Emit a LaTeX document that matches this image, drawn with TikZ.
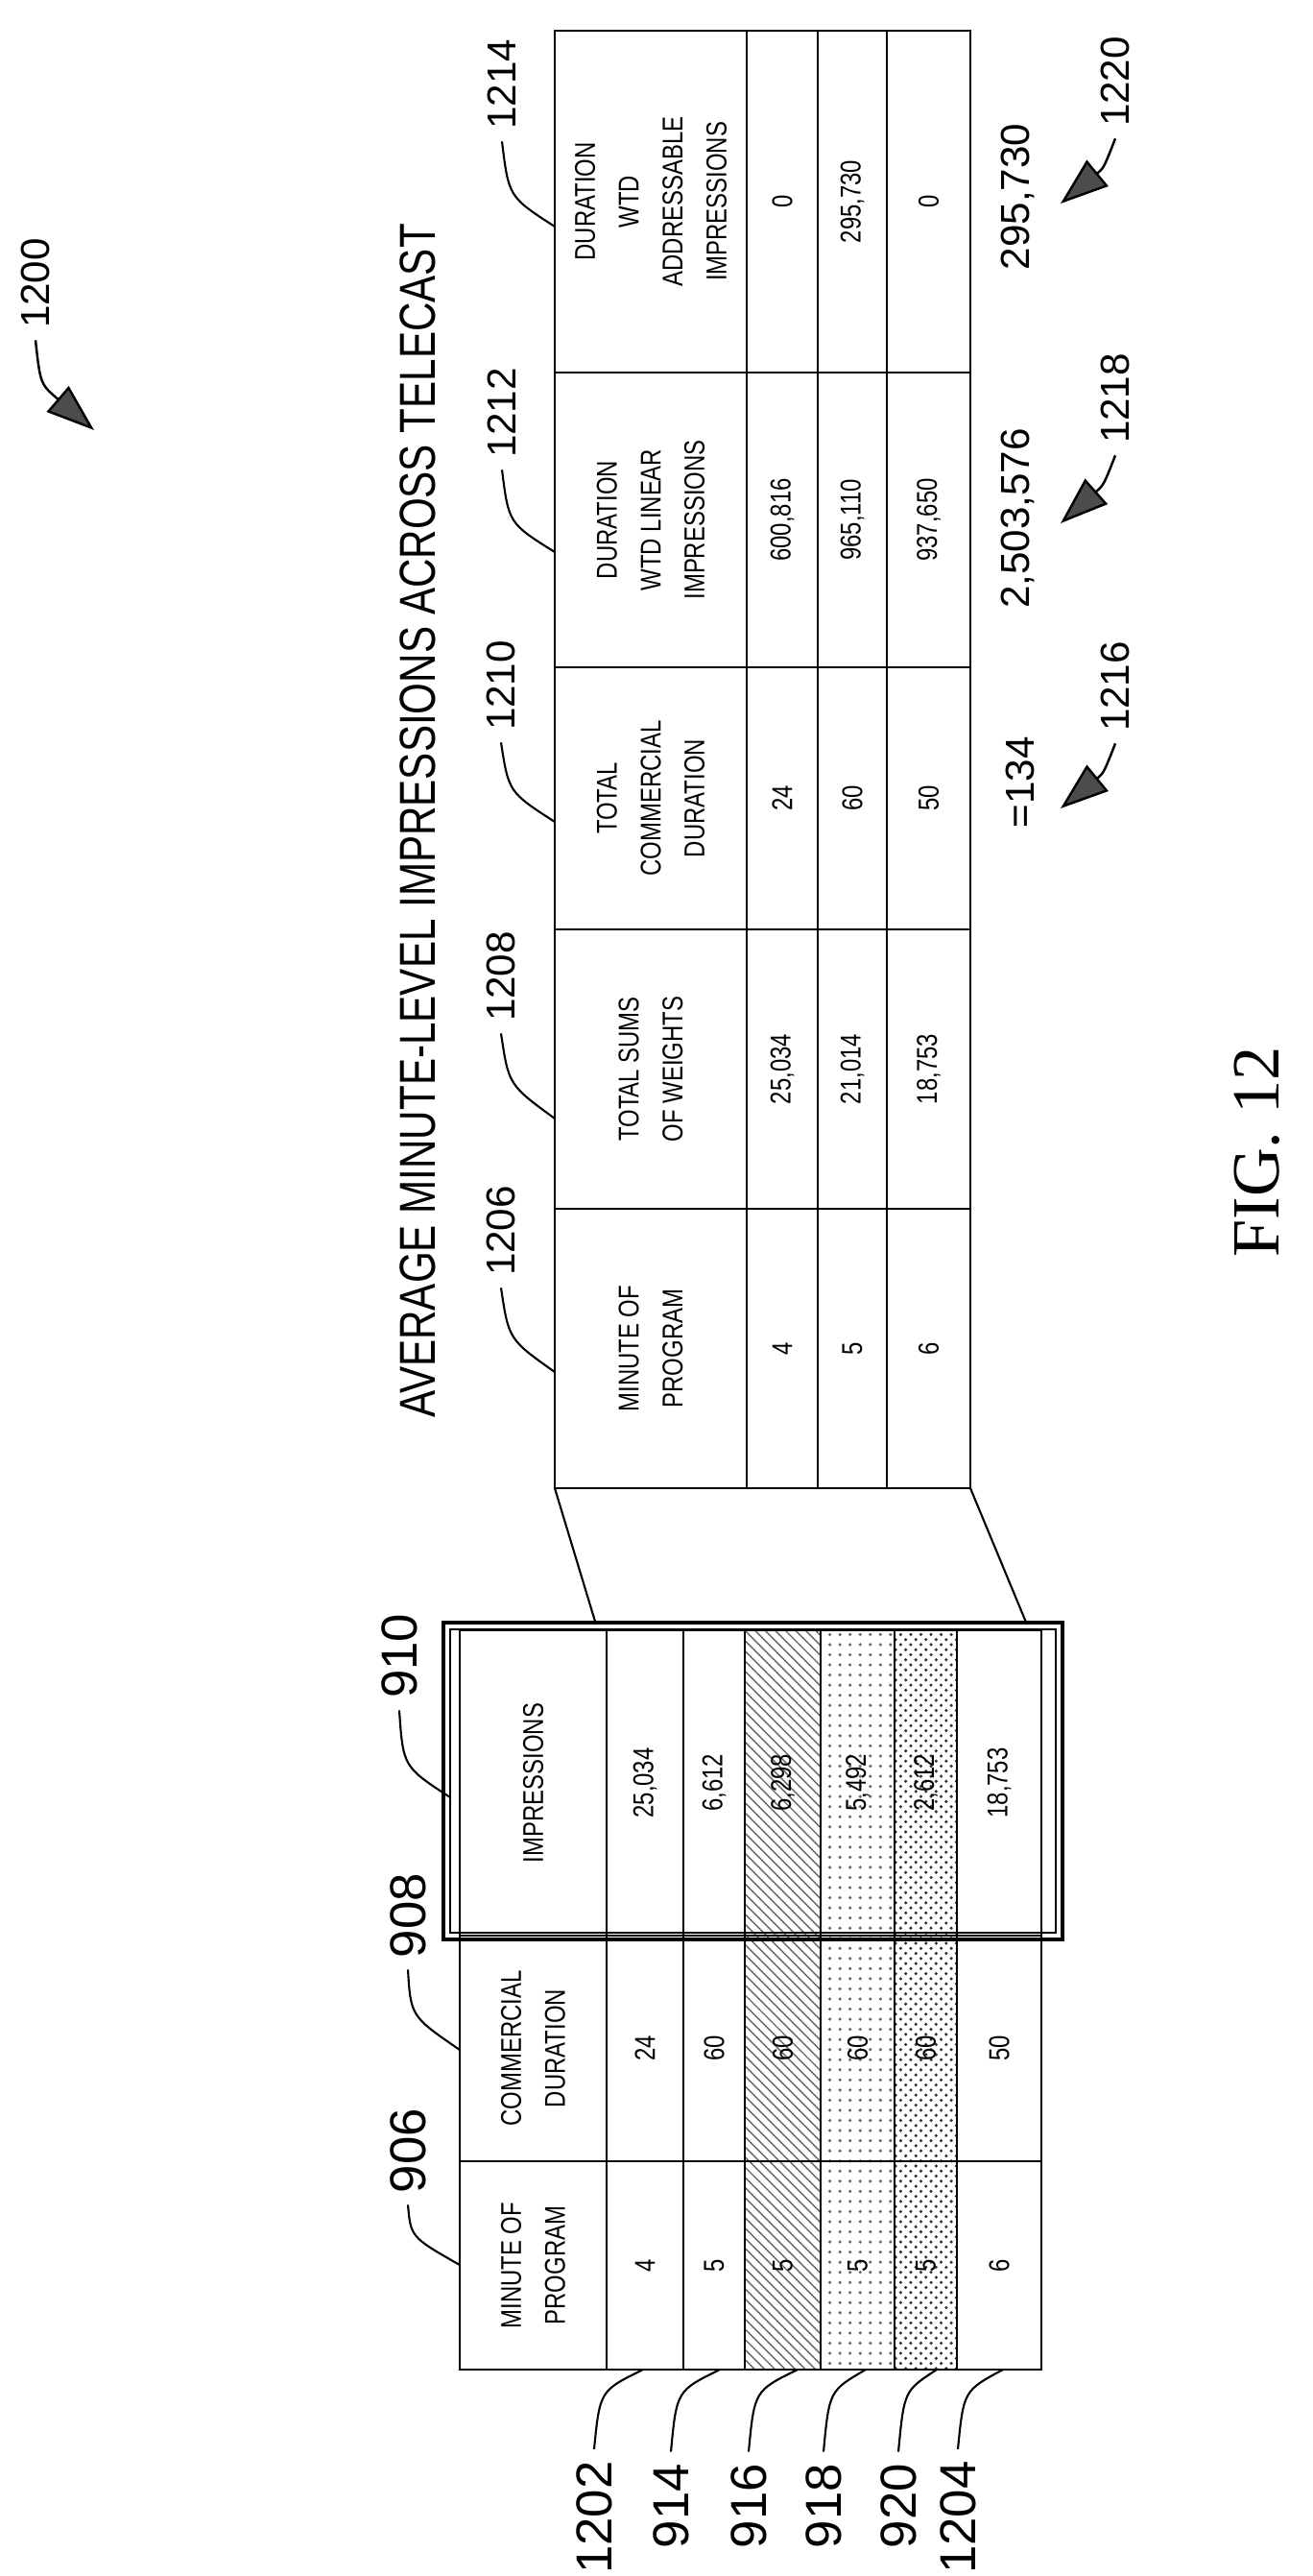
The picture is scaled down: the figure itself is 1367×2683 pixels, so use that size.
\documentclass[tikz,border=0pt]{standalone}
\usepackage{fontspec}
\setmainfont{Liberation Sans}
\newfontfamily\narrowfont[FakeStretch=0.8]{Liberation Sans}
\newfontfamily\figfont{Liberation Serif}
\usetikzlibrary{patterns,arrows.meta}
\newcommand\cellbox[7]{\node[cell,#7,minimum width={(#5-#3)*0.1mm},minimum height={(#4-#2)*0.1mm}] (#1) at ({(#2+#4)/2},{(#3+#5)/2}) {#6};}
\begin{document}
\begin{tikzpicture}[x=0.1mm,y=-0.1mm,
  cell/.style={draw,line width=0.7pt,rotate=90,inner sep=0pt,outer sep=0pt,align=center,font=\narrowfont\fontsize{8.5}{13}\selectfont},
  lbl/.style={rotate=90,font=\fontsize{12}{12}\selectfont},
  biglbl/.style={rotate=90,font=\fontsize{15}{15}\selectfont},
  lead/.style={line width=0.6pt},
  arr/.style={line width=0.7pt,-{Triangle[length=5mm,width=3.5mm,fill=black!70]}},
  h1/.style={pattern=north west lines,pattern color=black!60},
  h2/.style={pattern=dots,pattern color=black!60},
  h3/.style={pattern=crosshatch dots,pattern color=black!80}]
\useasboundingbox (0,0) rectangle (1367,2683);
% ---- right table
\cellbox{rh1}{578}{1259}{778}{1550}{MINUTE OF\\PROGRAM}{}
\cellbox{rh2}{578}{968}{778}{1259}{TOTAL SUMS\\OF WEIGHTS}{}
\cellbox{rh3}{578}{695}{778}{968}{TOTAL\\COMMERCIAL\\DURATION}{}
\cellbox{rh4}{578}{388}{778}{695}{DURATION\\WTD LINEAR\\IMPRESSIONS}{}
\cellbox{rh5}{578}{32}{778}{388}{DURATION\\WTD\\ADDRESSABLE\\IMPRESSIONS}{}
\cellbox{ra1}{778}{1259}{852}{1550}{4}{}
\cellbox{ra2}{778}{968}{852}{1259}{25,034}{}
\cellbox{ra3}{778}{695}{852}{968}{24}{}
\cellbox{ra4}{778}{388}{852}{695}{600,816}{}
\cellbox{ra5}{778}{32}{852}{388}{0}{}
\cellbox{rb1}{852}{1259}{924}{1550}{5}{}
\cellbox{rb2}{852}{968}{924}{1259}{21,014}{}
\cellbox{rb3}{852}{695}{924}{968}{60}{}
\cellbox{rb4}{852}{388}{924}{695}{965,110}{}
\cellbox{rb5}{852}{32}{924}{388}{295,730}{}
\cellbox{rc1}{924}{1259}{1011}{1550}{6}{}
\cellbox{rc2}{924}{968}{1011}{1259}{18,753}{}
\cellbox{rc3}{924}{695}{1011}{968}{50}{}
\cellbox{rc4}{924}{388}{1011}{695}{937,650}{}
\cellbox{rc5}{924}{32}{1011}{388}{0}{}
% title
\node[rotate=90,font=\narrowfont\fontsize{15}{15}\selectfont] (title) at (435,855) {AVERAGE MINUTE-LEVEL IMPRESSIONS ACROSS TELECAST};
% totals
\node[rotate=90,font=\fontsize{12}{12}\selectfont] (t1) at (1063,815) {=134};
\node[rotate=90,font=\fontsize{12}{12}\selectfont] (t2) at (1060,540) {2,503,576};
\node[rotate=90,font=\fontsize{12}{12}\selectfont] (t3) at (1060,205) {295,730};
% ---- left table
\cellbox{lh1}{479}{2251}{632}{2468}{MINUTE OF\\PROGRAM}{}
\cellbox{lh2}{479}{2016}{632}{2251}{COMMERCIAL\\DURATION}{}
\cellbox{lh3}{479}{1698}{632}{2016}{IMPRESSIONS}{}
\cellbox{la1}{632}{2251}{712}{2468}{4}{}
\cellbox{la2}{632}{2016}{712}{2251}{24}{}
\cellbox{la3}{632}{1698}{712}{2016}{25,034}{}
\cellbox{lb1}{712}{2251}{776}{2468}{5}{}
\cellbox{lb2}{712}{2016}{776}{2251}{60}{}
\cellbox{lb3}{712}{1698}{776}{2016}{6,612}{}
\cellbox{lc1}{776}{2251}{855}{2468}{5}{h1}
\cellbox{lc2}{776}{2016}{855}{2251}{60}{h1}
\cellbox{lc3}{776}{1698}{855}{2016}{6,298}{h1}
\cellbox{ld1}{855}{2251}{932}{2468}{5}{h2}
\cellbox{ld2}{855}{2016}{932}{2251}{60}{h2}
\cellbox{ld3}{855}{1698}{932}{2016}{5,492}{h2}
\cellbox{le1}{932}{2251}{997}{2468}{5}{h3}
\cellbox{le2}{932}{2016}{997}{2251}{60}{h3}
\cellbox{le3}{932}{1698}{997}{2016}{2,612}{h3}
\cellbox{lf1}{997}{2251}{1085}{2468}{6}{}
\cellbox{lf2}{997}{2016}{1085}{2251}{50}{}
\cellbox{lf3}{997}{1698}{1085}{2016}{18,753}{}
% double frame
\node[draw,line width=1.4pt,minimum width=64.5mm,minimum height=33mm,inner sep=0pt,outer sep=0pt] (frame) at (784.5,1855) {};
\node[draw,line width=0.8pt,minimum width=63.1mm,minimum height=31.6mm,inner sep=0pt] (framein) at (784.5,1855) {};
% connectors table-to-table
\coordinate (rbl) at (578,1550);
\coordinate (rbr) at (1011,1550);
\coordinate (fl) at (621,1692);
\coordinate (fr) at (1070,1692);
\draw[lead] (rbl) -- (fl);
\draw[lead] (rbr) -- (fr);
% ---- labels right table
\node[lbl] (n1206) at (522,1282) {1206};
\draw[lead] (n1206.west) .. controls (530,1395) .. (578,1429);
\node[lbl] (n1208) at (522,1017) {1208};
\draw[lead] (n1208.west) .. controls (530,1130) .. (578,1165);
\node[lbl] (n1210) at (522,714) {1210};
\draw[lead] (n1210.west) .. controls (530,825) .. (578,856);
\node[lbl] (n1212) at (523,430) {1212};
\draw[lead] (n1212.west) .. controls (530,545) .. (578,575);
\node[lbl] (n1214) at (523,88) {1214};
\draw[lead] (n1214.west) .. controls (530,205) .. (578,236);
% 1200
\node[lbl] (n1200) at (37,295) {1200};
\draw[arr] (n1200.west) .. controls (42,400) .. (98,448);
% totals labels
\node[lbl] (n1216) at (1162,715) {1216};
\draw[arr] (n1216.west) .. controls (1150,805) .. (1105,842);
\node[lbl] (n1218) at (1162,415) {1218};
\draw[arr] (n1218.west) .. controls (1150,505) .. (1105,545);
\node[lbl] (n1220) at (1162,85) {1220};
\draw[arr] (n1220.west) .. controls (1150,175) .. (1105,212);
% left labels
\node[biglbl] (n906) at (425,2240) {906};
\draw[lead] (n906.west) .. controls (428,2330) .. (479,2359);
\node[biglbl] (n908) at (425,1995) {908};
\draw[lead] (n908.west) .. controls (428,2100) .. (479,2135);
\node[biglbl] (n910) at (416,1725) {910};
\draw[lead] (n910.west) .. controls (420,1840) .. (469,1872);
\node[biglbl] (n1202) at (619,2622) {1202};
\draw[lead] (n1202.east) .. controls (625,2490) .. (670,2468);
\node[biglbl] (n914) at (699,2610) {914};
\draw[lead] (n914.east) .. controls (705,2490) .. (750,2468);
\node[biglbl] (n916) at (780,2610) {916};
\draw[lead] (n916.east) .. controls (786,2490) .. (831,2468);
\node[biglbl] (n918) at (858,2610) {918};
\draw[lead] (n918.east) .. controls (864,2490) .. (902,2468);
\node[biglbl] (n920) at (936,2610) {920};
\draw[lead] (n920.east) .. controls (942,2490) .. (976,2468);
\node[biglbl] (n1204) at (998,2622) {1204};
\draw[lead] (n1204.east) .. controls (1004,2490) .. (1045,2468);
% figure caption
\node[rotate=90,font=\figfont\fontsize{20}{20}\selectfont] (fig) at (1310,1200) {FIG. 12};
\end{tikzpicture}
\end{document}
